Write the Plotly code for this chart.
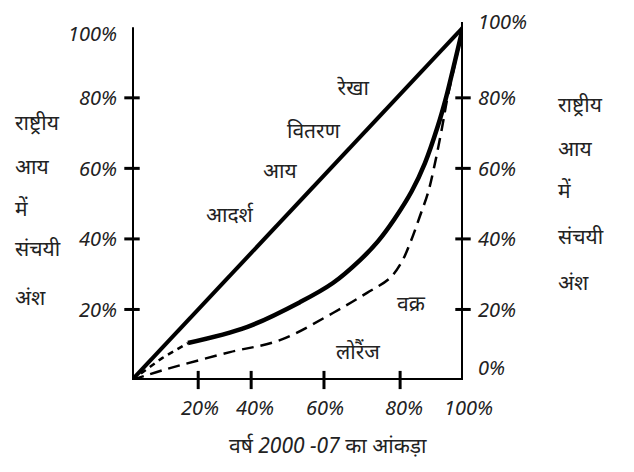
import plotly.graph_objects as go

# ---- data (percent) ----
equality_x = [0, 100]
equality_y = [0, 100]

lorenz_x = [16.9, 34.7, 50.8, 60.7, 68.9, 74.3, 79.2, 84.5, 88.5, 92.4, 95.0, 97.6, 100]
lorenz_y = [10.5, 15.0, 22.1, 27.5, 34.0, 39.3, 45.5, 53.5, 61.5, 72.0, 80.5, 90.5, 100]

lorenz_lead_x = [0, 9.1, 16.9]
lorenz_lead_y = [0, 6.2, 10.5]

lorenz2_x = [0, 9.4, 29.6, 44.7, 60.7, 71.0, 77.9, 81.5, 84.3, 87.0, 89.4, 91.2, 93.7, 95.3, 97.9, 100]
lorenz2_y = [0, 2.8, 7.9, 11.3, 19.0, 24.7, 28.9, 33.5, 39.5, 46.5, 53.0, 60.0, 71.7, 80.0, 91.0, 100]

y_ticks = [20, 40, 60, 80]
y_tick_labels = ["20%", "40%", "60%", "80%"]
x_tick_labels = ["20%", "40%", "60%", "80%", "100%"]
x_tick_marks = [20, 36, 58, 81]          # where the ticks are drawn in the picture

side_title = ["राष्ट्रीय", "आय", "में", "संचयी", "अंश"]
x_title = "वर्ष 2000 -07 का आंकड़ा"
curve_words = ["आदर्श", "आय", "वितरण", "रेखा", "वक्र", "लोरैंज"]

FONT = "Noto Sans, Noto Sans Devanagari, sans-serif"
PAGE_OFF = 8                      # default body margin of the html page
W, H = 634 - PAGE_OFF, 472 - PAGE_OFF
L, R, T, B = 132, 171, 22, 92     # plot box in page pixels
PW, PH = 634 - L - R, 472 - T - B


def px(xp):
    return (xp - L) / PW


def py(yp):
    return (472 - B - yp) / PH


fig = go.Figure()

# axis lines
fig.add_shape(type="line", x0=0, y0=0, x1=0, y1=100, line=dict(color="black", width=4))
fig.add_shape(type="line", x0=0, y0=0, x1=100, y1=0, line=dict(color="black", width=4))
fig.add_shape(type="line", x0=100, y0=0, x1=100, y1=101.5, line=dict(color="black", width=4))

fig.add_trace(go.Scatter(x=equality_x, y=equality_y, mode="lines",
                         line=dict(color="black", width=4), hoverinfo="skip"))
fig.add_trace(go.Scatter(x=lorenz_x, y=lorenz_y, mode="lines",
                         line=dict(color="black", width=4.5, shape="spline", smoothing=1.0),
                         hoverinfo="skip"))
fig.add_trace(go.Scatter(x=lorenz_lead_x, y=lorenz_lead_y, mode="lines",
                         line=dict(color="black", width=2.5, dash="6px,5px"), hoverinfo="skip"))
fig.add_trace(go.Scatter(x=lorenz2_x, y=lorenz2_y, mode="lines",
                         line=dict(color="black", width=2.5, dash="12px,7px", shape="spline",
                                   smoothing=1.0),
                         hoverinfo="skip"))

# tick marks
fig.add_trace(go.Scatter(x=[0] * len(y_ticks) + [100] * len(y_ticks), y=y_ticks + y_ticks,
                         mode="markers", cliponaxis=False, hoverinfo="skip",
                         marker=dict(symbol="line-ew", size=11, line=dict(color="black", width=3))))
fig.add_trace(go.Scatter(x=x_tick_marks, y=[0] * len(x_tick_marks), mode="markers",
                         cliponaxis=False, hoverinfo="skip",
                         marker=dict(symbol="line-ns", size=13, line=dict(color="black", width=3))))

ann = []
tf = dict(family=FONT, size=20, color="#222", style="italic")
# left tick labels
for v, t in zip(y_ticks + [100], y_tick_labels + ["100%"]):
    ann.append(dict(x=0, y=v, xref="x", yref="y", text=t, showarrow=False, xanchor="right",
                    yanchor="middle", xshift=-13, yshift=(-6 if v == 100 else 0), font=tf))
# right tick labels
for v, t in zip([0] + y_ticks + [100], ["0%"] + y_tick_labels + ["100%"]):
    ys = 13 if v == 0 else (6 if v == 100 else 0)
    ann.append(dict(x=100, y=v, xref="x", yref="y", text=t, showarrow=False, xanchor="left",
                    yanchor="middle", xshift=13, yshift=ys, font=tf))
# x tick labels (positions as placed in the picture, page pixels)
x_label_px = [200, 255, 325, 404, 468]
for xp, t in zip(x_label_px, x_tick_labels):
    ann.append(dict(x=px(xp), y=py(407), xref="paper", yref="paper", text=t, showarrow=False,
                    xanchor="center", yanchor="middle", font=tf))

# side titles
df = dict(family=FONT, size=21, color="#222", style="italic")
left_y = [122, 166, 208, 248, 297]
right_y = [104, 148, 190, 236, 282]
for t, yl, yr in zip(side_title, left_y, right_y):
    ann.append(dict(x=px(13), y=py(yl), xref="paper", yref="paper", text=t, showarrow=False,
                    xanchor="left", yanchor="middle", font=df))
    ann.append(dict(x=px(556), y=py(yr), xref="paper", yref="paper", text=t, showarrow=False,
                    xanchor="left", yanchor="middle", font=df))

# x title
ann.append(dict(x=px(328), y=py(445), xref="paper", yref="paper", text=x_title, showarrow=False,
                xanchor="center", yanchor="middle", font=df))

# curve words
word_pos = [(230, 214), (280, 170), (314, 130), (353, 87), (411, 303), (358, 351)]
for t, (xx, yy) in zip(curve_words, word_pos):
    ann.append(dict(x=px(xx), y=py(yy), xref="paper", yref="paper", text=t, showarrow=False,
                    xanchor="center", yanchor="middle", font=df))

fig.update_layout(
    width=W, height=H,
    margin=dict(l=L - PAGE_OFF, r=R, t=T - PAGE_OFF, b=B),
    paper_bgcolor="white", plot_bgcolor="white",
    showlegend=False,
    xaxis=dict(range=[0, 100], visible=False, fixedrange=True),
    yaxis=dict(range=[0, 101.5], visible=False, fixedrange=True),
    annotations=ann,
)

fig.write_html("out.html")
